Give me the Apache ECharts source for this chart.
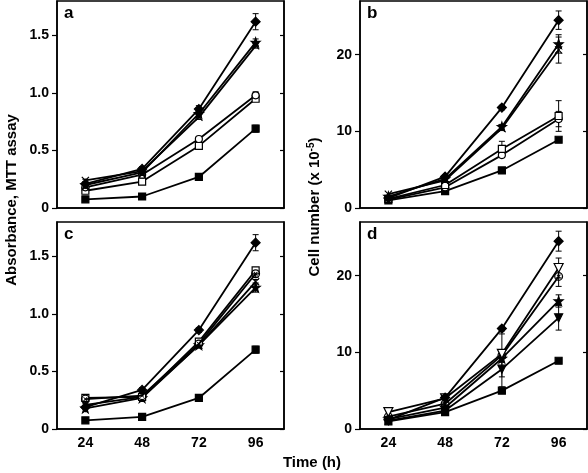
<!DOCTYPE html>
<html><head><meta charset="utf-8">
<script src="https://cdn.jsdelivr.net/npm/echarts@6/dist/echarts.min.js"></script>
<style>html,body{margin:0;padding:0;background:#fff}#c{width:588px;height:473px}</style>
</head><body><div id="c"></div>
<script>
// ---- data ----
const times = ['24', '48', '72', '96'];
const absTicks = [0, 0.5, 1.0, 1.5];
const cellTicks = [0, 10, 20];

// panel a (MTT absorbance)
const aDiamond = [0.21, 0.34, 0.86, 1.62];   const aDiamondErr = [0.01, 0.02, 0.03, 0.07];
const aStar = [0.20, 0.31, 0.82, 1.44];      const aStarErr = [0.01, 0.02, 0.02, 0.03];
const aCross = [0.24, 0.32, 0.79, 1.41];     const aCrossErr = [0.01, 0.01, 0.02, 0.02];
const aCircle = [0.18, 0.29, 0.60, 0.98];    const aCircleErr = [0.01, 0.01, 0.01, 0.03];
const aOpenSq = [0.15, 0.23, 0.54, 0.95];    const aOpenSqErr = [0.01, 0.01, 0.01, 0.02];
const aSquare = [0.075, 0.10, 0.27, 0.69];   const aSquareErr = [0.01, 0.01, 0.01, 0.03];

// panel b (cell number)
const bDiamond = [1.3, 4.1, 13.1, 24.5];     const bDiamondErr = [0.1, 0.2, 0.3, 1.2];
const bStar = [1.5, 3.8, 10.6, 21.4];        const bStarErr = [0.1, 0.2, 0.3, 1.2];
const bCross = [1.8, 3.6, 10.4, 20.6];       const bCrossErr = [0.1, 0.2, 0.3, 1.7];
const bOpenSq = [1.2, 3.0, 7.7, 12.0];       const bOpenSqErr = [0.1, 0.2, 1.0, 2.0];
const bCircle = [1.1, 2.7, 6.9, 11.6];       const bCircleErr = [0.1, 0.2, 0.3, 1.0];
const bSquare = [1.0, 2.2, 4.9, 8.9];        const bSquareErr = [0.1, 0.1, 0.2, 0.2];

// panel c (MTT absorbance)
const cDiamond = [0.19, 0.34, 0.86, 1.62];   const cDiamondErr = [0.01, 0.02, 0.02, 0.07];
const cOpenSq = [0.27, 0.28, 0.76, 1.38];    const cOpenSqErr = [0.01, 0.01, 0.01, 0.02];
const cCircleX = [0.26, 0.29, 0.74, 1.35];   const cCircleXErr = [0.01, 0.01, 0.01, 0.03];
const cCross = [0.21, 0.28, 0.73, 1.28];     const cCrossErr = [0.01, 0.01, 0.01, 0.02];
const cStar = [0.18, 0.27, 0.73, 1.23];      const cStarErr = [0.01, 0.03, 0.01, 0.04];
const cSquare = [0.075, 0.105, 0.27, 0.69];  const cSquareErr = [0.01, 0.01, 0.01, 0.03];

// panel d (cell number)
const dDiamond = [1.2, 4.1, 13.1, 24.5];     const dDiamondErr = [0.1, 0.2, 0.3, 1.3];
const dOpenTri = [2.2, 4.0, 9.8, 21.0];      const dOpenTriErr = [0.1, 0.2, 0.5, 1.3];
const dCircleX = [1.6, 3.3, 9.6, 19.9];      const dCircleXErr = [0.1, 0.2, 2.8, 1.3];
const dStar = [1.3, 2.8, 9.2, 16.7];         const dStarErr = [0.1, 0.2, 0.5, 0.8];
const dTriDown = [1.1, 2.4, 7.8, 14.5];      const dTriDownErr = [0.1, 0.2, 2.3, 1.6];
const dSquare = [1.0, 2.2, 5.0, 8.9];        const dSquareErr = [0.1, 0.1, 0.2, 0.2];

// ---- symbols ----
const SYM = {
  diamond: {symbol: 'diamond', size: 9, fill: '#000'},
  square: {symbol: 'rect', size: 7, fill: '#000'},
  openSq: {symbol: 'rect', size: 7, fill: '#fff'},
  circle: {symbol: 'circle', size: 7, fill: '#fff'},
  cross: {symbol: 'path://M0,1 L1,0 L5,4 L9,0 L10,1 L6,5 L10,9 L9,10 L5,6 L1,10 L0,9 L4,5 Z', size: 8, fill: '#000', noBorder: true},
  star: {symbol: 'path://M5,0 L6.2,3.4 L10,3.5 L7,5.8 L8.1,9.5 L5,7.3 L1.9,9.5 L3,5.8 L0,3.5 L3.8,3.4 Z', size: 9, fill: '#000'},
  circleX: {symbol: 'path://M5,0 A5,5 0 1,1 5,10 A5,5 0 1,1 5,0 Z M5,1.4 A3.6,3.6 0 1,0 5,8.6 A3.6,3.6 0 1,0 5,1.4 Z M2.6,3.3 L3.3,2.6 L5,4.3 L6.7,2.6 L7.4,3.3 L5.7,5 L7.4,6.7 L6.7,7.4 L5,5.7 L3.3,7.4 L2.6,6.7 L4.3,5 Z', size: 9, fill: '#000', noBorder: true},
  openTri: {symbol: 'path://M0,0 L10,0 L5,9 Z', size: 9, fill: '#fff'},
  triDown: {symbol: 'path://M0,0 L10,0 L5,9 Z', size: 8, fill: '#000'}
};

const panels = [
  {grid: 0, max: 1.8, ticks: absTicks, fmt: v => v === 0 ? '0' : v.toFixed(1), showX: false, series: [
    [aSquare, aSquareErr, 'square'], [aOpenSq, aOpenSqErr, 'openSq'], [aCircle, aCircleErr, 'circle'],
    [aCross, aCrossErr, 'cross'], [aStar, aStarErr, 'star'], [aDiamond, aDiamondErr, 'diamond']]},
  {grid: 1, max: 27, ticks: cellTicks, fmt: v => String(v), showX: false, series: [
    [bSquare, bSquareErr, 'square'], [bCircle, bCircleErr, 'circle'], [bOpenSq, bOpenSqErr, 'openSq'],
    [bCross, bCrossErr, 'cross'], [bStar, bStarErr, 'star'], [bDiamond, bDiamondErr, 'diamond']]},
  {grid: 2, max: 1.8, ticks: absTicks, fmt: v => v === 0 ? '0' : v.toFixed(1), showX: true, series: [
    [cSquare, cSquareErr, 'square'], [cStar, cStarErr, 'star'], [cCross, cCrossErr, 'cross'],
    [cOpenSq, cOpenSqErr, 'openSq'], [cCircleX, cCircleXErr, 'circleX'], [cDiamond, cDiamondErr, 'diamond']]},
  {grid: 3, max: 27, ticks: cellTicks, fmt: v => String(v), showX: true, series: [
    [dSquare, dSquareErr, 'square'], [dTriDown, dTriDownErr, 'triDown'], [dStar, dStarErr, 'star'],
    [dCircleX, dCircleXErr, 'circleX'], [dOpenTri, dOpenTriErr, 'openTri'], [dDiamond, dDiamondErr, 'diamond']]}
];

const FONT = '"Liberation Sans", Arial, sans-serif';
const gridPos = [
  {left: 57, top: 1, width: 227, height: 207},
  {left: 360, top: 1, width: 227, height: 207},
  {left: 57, top: 222, width: 227, height: 207},
  {left: 360, top: 222, width: 227, height: 207}
];

const grids = [], xAxes = [], yAxes = [], series = [];
panels.forEach((p, i) => {
  grids.push(Object.assign({show: true, borderColor: '#000', borderWidth: 1.5, backgroundColor: 'transparent'}, gridPos[i]));
  xAxes.push({
    type: 'category', gridIndex: i, data: times, boundaryGap: true,
    axisLine: {lineStyle: {color: '#000', width: 1.5}},
    axisTick: {alignWithLabel: true, inside: true, length: 5, lineStyle: {color: '#000', width: 1.2}},
    axisLabel: {show: p.showX, color: '#000', fontFamily: FONT, fontWeight: 'bold', fontSize: 14, margin: 7},
    splitLine: {show: false}
  });
  yAxes.push({
    type: 'value', gridIndex: i, min: 0, max: p.max, position: 'left',
    axisLine: {show: true, lineStyle: {color: '#000', width: 1.5}},
    axisTick: {show: true, inside: false, length: 5, customValues: p.ticks, lineStyle: {color: '#000', width: 1.2}},
    axisLabel: {color: '#000', fontFamily: FONT, fontWeight: 'bold', fontSize: 14, margin: 8, customValues: p.ticks, formatter: p.fmt},
    splitLine: {show: false}
  });
  yAxes.push({
    type: 'value', gridIndex: i, min: 0, max: p.max, position: 'right',
    axisLine: {show: true, lineStyle: {color: '#000', width: 1.5}},
    axisTick: {show: true, inside: true, length: 4, customValues: p.ticks, lineStyle: {color: '#000', width: 1.2}},
    axisLabel: {show: false},
    splitLine: {show: false}
  });
  p.series.forEach((s, k) => {
    const [vals, errs, symKey] = s;
    const sym = SYM[symKey];
    series.push({
      type: 'custom', xAxisIndex: i, yAxisIndex: 2 * i, z: 2 + k * 0.01,
      data: vals.map((v, j) => [j, v, errs[j]]),
      encode: {x: 0, y: 1},
      renderItem: function (params, api) {
        const x = api.value(0), y = api.value(1), e = api.value(2);
        const t = api.coord([x, y + e]), b = api.coord([x, y - e]);
        if (Math.abs(b[1] - t[1]) < 2) return null;
        const w = 3;
        const st = {stroke: '#000', lineWidth: 1};
        return {type: 'group', children: [
          {type: 'line', shape: {x1: t[0], y1: t[1], x2: b[0], y2: b[1]}, style: st},
          {type: 'line', shape: {x1: t[0] - w, y1: t[1], x2: t[0] + w, y2: t[1]}, style: st},
          {type: 'line', shape: {x1: b[0] - w, y1: b[1], x2: b[0] + w, y2: b[1]}, style: st}
        ]};
      },
      silent: true
    });
    series.push({
      type: 'line', xAxisIndex: i, yAxisIndex: 2 * i, data: vals, z: 3 + k * 0.01,
      symbol: sym.symbol, symbolSize: sym.size, showAllSymbol: true,
      lineStyle: {color: '#000', width: 1.8},
      itemStyle: {color: sym.fill, borderColor: '#000', borderWidth: sym.noBorder ? 0 : 1.2},
      emphasis: {disabled: true}, animation: false
    });
  });
});

const letterStyle = {fill: '#000', font: 'bold 17px ' + FONT};
const chart = echarts.init(document.getElementById('c'));
chart.setOption({
  animation: false,
  backgroundColor: '#fff',
  grid: grids, xAxis: xAxes, yAxis: yAxes, series: series,
  graphic: [
    {type: 'text', left: 64, top: 5, style: Object.assign({text: 'a'}, letterStyle)},
    {type: 'text', left: 367, top: 5, style: Object.assign({text: 'b'}, letterStyle)},
    {type: 'text', left: 64, top: 226, style: Object.assign({text: 'c'}, letterStyle)},
    {type: 'text', left: 367, top: 226, style: Object.assign({text: 'd'}, letterStyle)},
    {type: 'text', x: 312, y: 463, style: {text: 'Time (h)', fill: '#000', font: 'bold 15px ' + FONT, align: 'center', verticalAlign: 'middle'}},
    {type: 'text', x: 12, y: 200, rotation: Math.PI / 2, style: {text: 'Absorbance, MTT assay', fill: '#000', font: 'bold 15px ' + FONT, align: 'center', verticalAlign: 'middle'}},
    {type: 'text', x: 315, y: 207, rotation: Math.PI / 2, style: {
      text: 'Cell number (x 10{sup|-5})', fill: '#000', font: 'bold 15px ' + FONT, align: 'center', verticalAlign: 'middle',
      rich: {sup: {fontSize: 10, fontWeight: 'bold', fontFamily: FONT, verticalAlign: 'top', padding: [0, 0, 7, 0], fill: '#000'}}
    }}
  ]
});
</script></body></html>
